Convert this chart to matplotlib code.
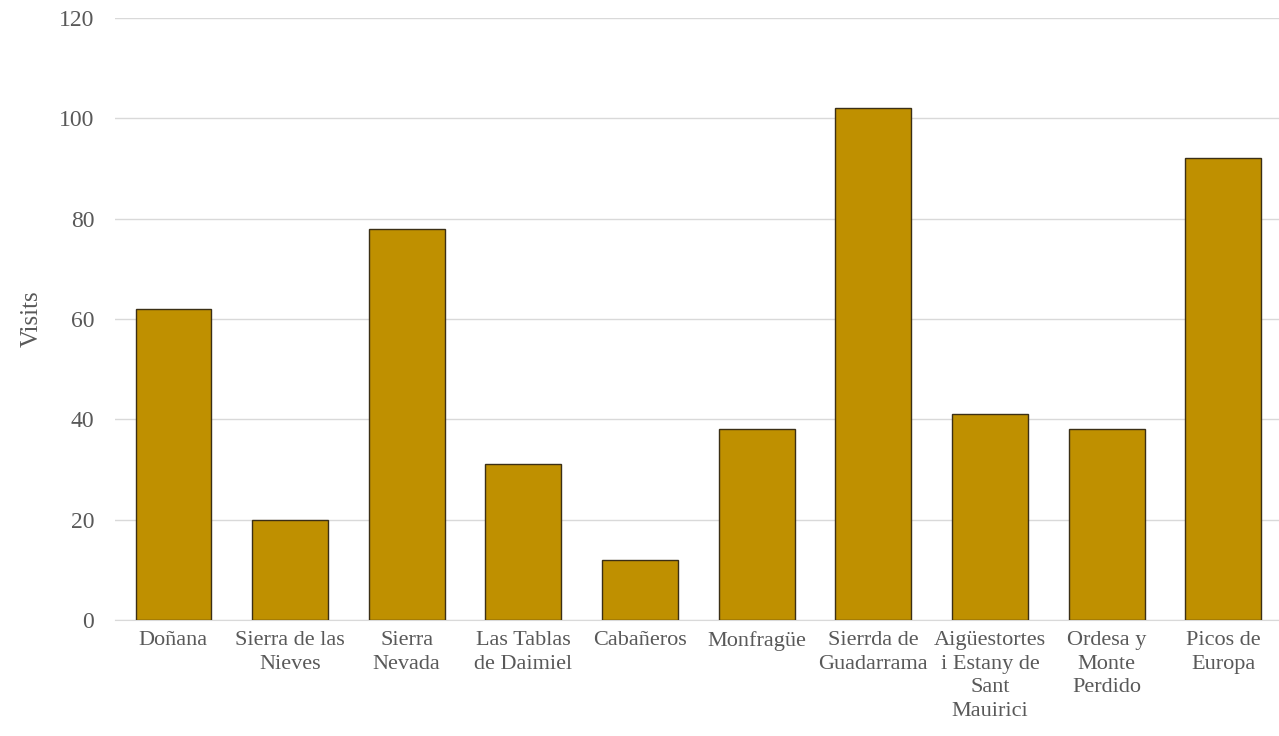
import matplotlib.pyplot as plt

parks = ["Doñana", "Sierra de las\nNieves", "Sierra\nNevada", "Las Tablas\nde Daimiel",
         "Cabañeros", "Monfragüe", "Sierrda de\nGuadarrama",
         "Aigüestortes\ni Estany de\nSant\nMauirici", "Ordesa y\nMonte\nPerdido",
         "Picos de\nEuropa"]
visits = [62, 20, 78, 31, 12, 38, 102, 41, 38, 92]

plt.rcParams["font.family"] = ["Liberation Serif", "DejaVu Serif"]

fig = plt.figure(figsize=(12.79, 7.36), dpi=100)
ax = fig.add_axes([0.09, 0.1576, 0.912, 0.818])

x = range(len(parks))
ax.bar(x, visits, width=0.65, color="#BF9000", edgecolor="#3b2f16",
       linewidth=1.0, zorder=3)

ax.set_xlim(-0.5, len(parks) - 0.5)
ax.set_ylim(0, 120)
ax.set_yticks(range(0, 121, 20))
ax.set_xticks(list(x))
ax.set_xticklabels(parks, fontsize=16, color="#595959", linespacing=1.33)
ax.tick_params(axis="y", labelsize=17, labelcolor="#595959", length=0, pad=15)
ax.tick_params(axis="x", length=0, pad=8)

ax.grid(axis="y", color="#d9d9d9", linewidth=1.0, zorder=0)
for s in ["top", "right", "left"]:
    ax.spines[s].set_visible(False)
ax.spines["bottom"].set_color("#d9d9d9")

ax.set_ylabel("Visits", fontsize=18, color="#595959", labelpad=12)

fig.savefig("out.png", dpi=100)
